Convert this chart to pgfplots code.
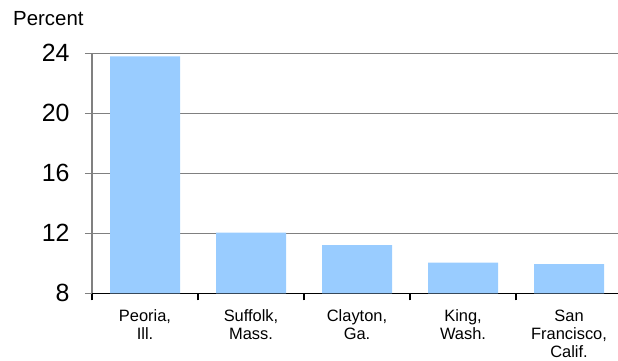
\documentclass[border=0pt]{standalone}
\usepackage{pgfplots}
\pgfplotsset{compat=1.18}
\usepackage{fontspec}
\setmainfont{Liberation Sans}
\definecolor{barblue}{RGB}{153,204,255}
\definecolor{gridgray}{RGB}{128,128,128}
\begin{document}
\begin{tikzpicture}[x=1bp,y=1bp]
\path[use as bounding box] (0,0) rectangle (618,360);
\node[anchor=base west, inner sep=0pt, font=\fontsize{20.5}{22}\selectfont] at (13,335) {Percent};
\begin{axis}[
  at={(92bp,66.7bp)}, anchor=south west,
  scale only axis, width=526bp, height=240bp,
  xmin=-0.5, xmax=4.462, ymin=8, ymax=24,
  axis x line*=bottom, axis y line*=left,
  x axis line style={black, line width=1.5bp, -},
  y axis line style={gridgray, line width=1.5bp, -},
  /pgf/number format/assume math mode=true,
  ytick={8,12,16,20,24},
  yticklabel style={font=\fontsize{25}{28}\selectfont, xshift=-12bp},
  ytick style={gridgray, line width=1.5bp},
  ymajorgrids,
  major grid style={gridgray, line width=1.5bp},
  xtick={-0.5,0.5,1.5,2.5,3.5},
  xticklabels={},
  xtick style={black, line width=1.5bp},
  tick align=outside,
  major tick length=7bp,
  extra x ticks={0,1,2,3,4},
  extra x tick labels={{Peoria,\\Ill.},{Suffolk,\\Mass.},{Clayton,\\Ga.},{King,\\Wash.},{San\\Francisco,\\Calif.}},
  extra x tick style={major tick length=0pt, xticklabel style={align=center, font=\fontsize{16.5}{18.3}\selectfont, anchor=north, yshift=-13bp}},
  ybar, bar width=70bp,
  clip=true,
]
\addplot[fill=barblue, draw=none, bar shift=0pt] coordinates {(0,23.8) (1,12.05) (2,11.22) (3,10.04) (4,9.95)};
\end{axis}
\end{tikzpicture}
\end{document}
